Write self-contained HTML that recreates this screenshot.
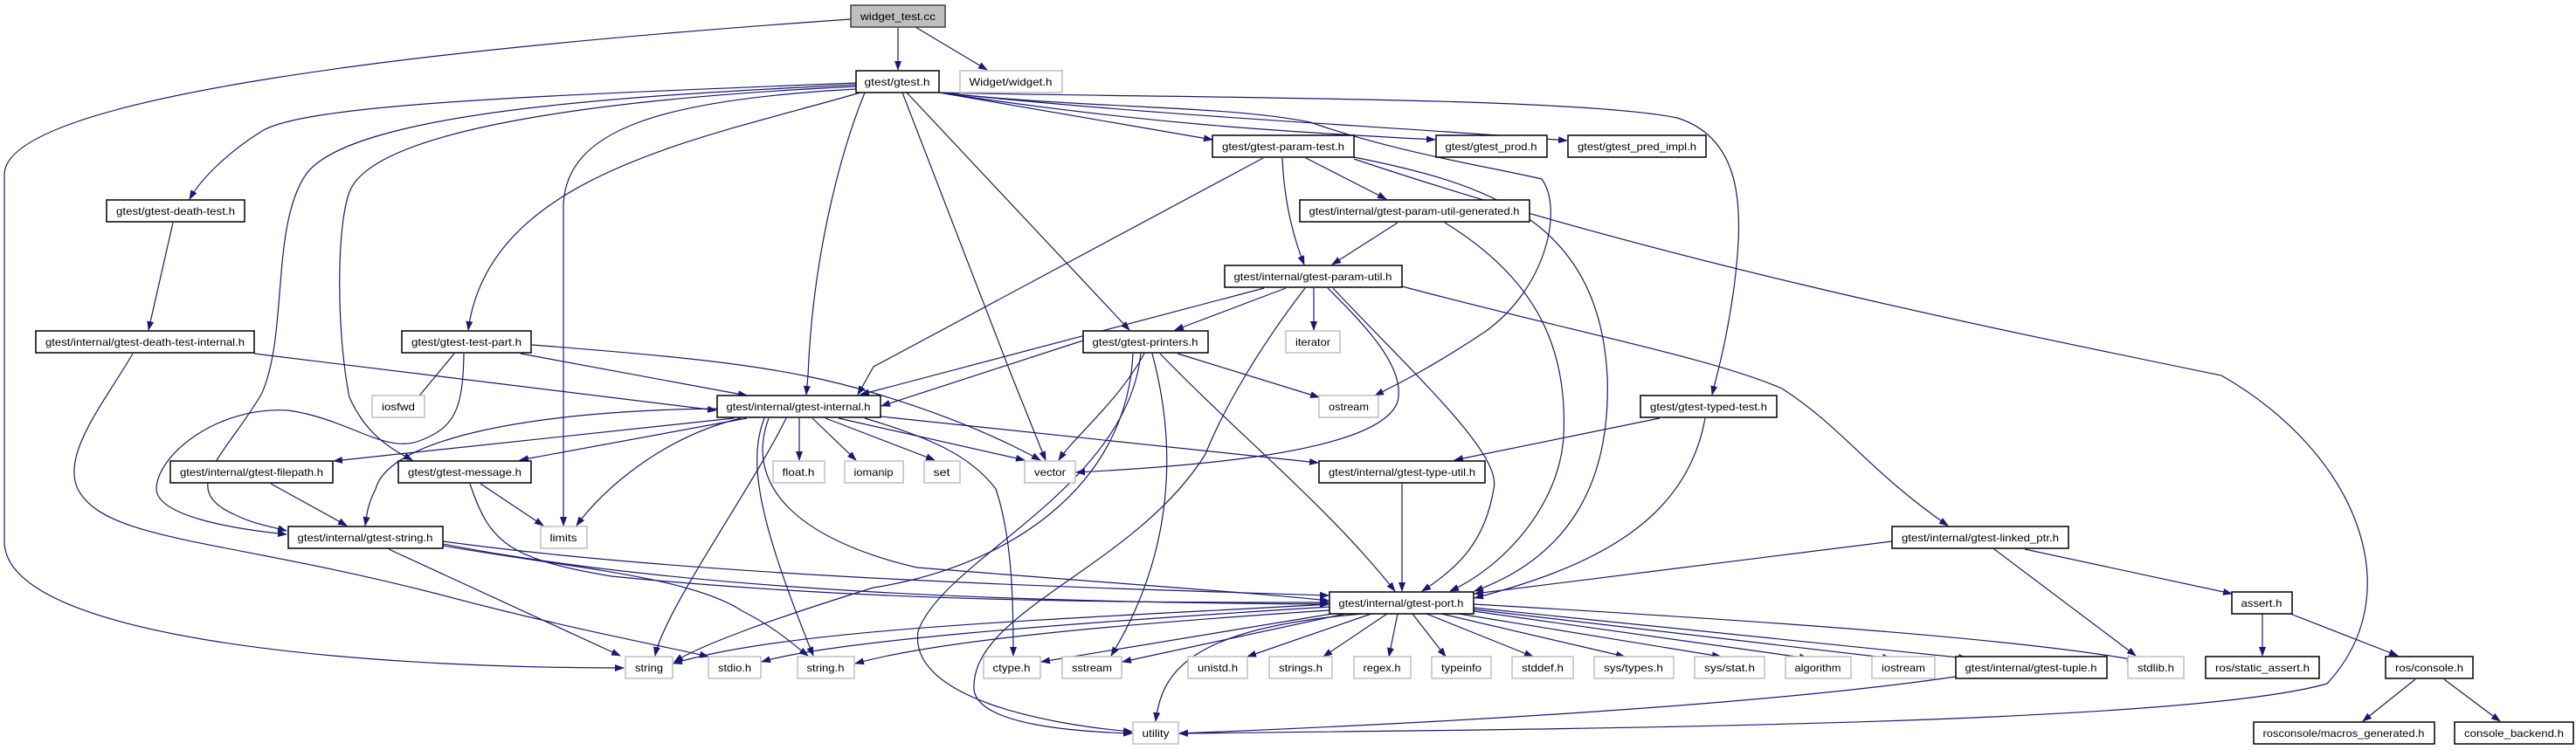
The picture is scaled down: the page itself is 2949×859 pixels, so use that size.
<!DOCTYPE html>
<html><head><meta charset="utf-8"><style>
html,body{margin:0;padding:0;background:#fff;}
svg{display:block;}
text{font-family:"Liberation Sans",sans-serif;font-size:12px;fill:#000;}
</style></head><body>
<svg width="2949" height="859" viewBox="0 0 2949 859" xmlns="http://www.w3.org/2000/svg">
<defs>
<marker id="a" markerUnits="userSpaceOnUse" markerWidth="11" markerHeight="8" refX="10" refY="4" orient="auto">
<path d="M0,0 L11,4 L0,8 z" fill="#191970"/>
</marker>
</defs>
<g fill="none" stroke="#191970" stroke-width="1.2" marker-end="url(#a)">
<!-- widget_test.cc -->
<path d="M974,22 C500,55 5,110 5,200 L5,620 C5,730 400,765 714,765"/>
<path d="M1028,31 L1028,80"/>
<path d="M1048,31 L1130,80"/>
<!-- gtest.h -->
<path d="M980,95 C600,110 350,120 300,150 C260,175 230,205 217,228"/>
<path d="M980,97 C700,110 400,130 350,200 C310,260 330,380 300,450 C260,520 200,560 270,590 C290,600 310,603 328,608"/>
<path d="M980,99 C750,110 430,140 400,220 C385,260 385,380 400,455 C420,500 450,515 472,527"/>
<path d="M980,102 C750,115 650,150 645,233 L645,602"/>
<path d="M990,106 C960,180 930,300 925,430 L923,452"/>
<path d="M985,106 C800,160 560,200 536,378"/>
<path d="M1038,106 L1293,378"/>
<path d="M1033,106 L1158,430 L1197,527"/>
<path d="M1075,106 L1388,160"/>
<path d="M1075,106 C1300,140 1450,150 1643,160"/>
<path d="M1075,106 C1350,135 1600,145 1794,161"/>
<path d="M1075,106 C1250,125 1400,120 1500,140 C1600,175 1700,190 1765,205 C1790,240 1770,330 1700,380 C1640,420 1600,440 1574,453"/>
<path d="M1075,106 C1300,112 1800,110 1920,135 C2000,160 1995,250 1985,330 C1975,400 1965,430 1960,452"/>
<!-- param-test -->
<path d="M1495,181 L1587,228"/>
<path d="M1468,181 C1470,230 1480,270 1493,303"/>
<path d="M1446,181 L1000,420 L982,452"/>
<path d="M1550,180 C1700,210 1830,250 1840,430 C1845,560 1790,640 1688,677"/>
<path d="M1550,182 C1900,300 2300,380 2543,430 C2700,520 2760,680 2664,783 C2500,830 1800,835 1350,840"/>
<!-- param-util-generated -->
<path d="M1600,255 L1525,303"/>
<path d="M1654,255 C1760,320 1795,400 1790,500 C1785,580 1720,650 1660,677"/>
<!-- param-util -->
<path d="M1472,330 L1345,378"/>
<path d="M1447,330 L985,452"/>
<path d="M1504,330 L1504,378"/>
<path d="M1494,330 C1440,400 1400,470 1380,520 C1300,650 1110,700 1115,790 C1120,830 1230,838 1296,840"/>
<path d="M1520,330 C1560,370 1610,420 1600,460 C1580,520 1350,535 1232,541"/>
<path d="M1526,330 C1620,430 1720,520 1710,560 C1700,620 1670,650 1628,677"/>
<path d="M1605,328 C1800,380 1960,410 2040,445 C2110,490 2140,540 2230,602"/>
<!-- printers -->
<path d="M1240,390 L1009,465"/>
<path d="M1348,405 L1510,455"/>
<path d="M1310,405 C1280,460 1230,500 1212,527"/>
<path d="M1297,405 C1290,560 1150,650 1000,673 C880,710 800,740 772,758"/>
<path d="M1319,405 C1350,520 1340,640 1272,751"/>
<path d="M1306,405 C1290,560 1080,640 1051,723 C1040,800 1200,830 1296,838"/>
<path d="M1328,405 C1420,500 1520,580 1597,677"/>
<!-- gtest-internal -->
<path d="M840,479 L382,528"/>
<path d="M821,468 C620,470 446,500 430,560 C420,580 420,590 418,602"/>
<path d="M855,479 L595,527"/>
<path d="M848,479 C760,500 690,560 660,602"/>
<path d="M900,479 C860,560 760,700 750,751"/>
<path d="M875,479 C855,530 870,600 931,751"/>
<path d="M915,479 L915,527"/>
<path d="M930,479 L980,527"/>
<path d="M945,479 L1070,527"/>
<path d="M960,479 L1173,527"/>
<path d="M1008,477 L1509,530"/>
<path d="M990,479 C1060,500 1110,520 1140,560 C1160,620 1160,700 1160,751"/>
<path d="M880,479 C850,560 920,620 1050,650 C1300,670 1450,680 1521,688"/>
<!-- typed-test -->
<path d="M1900,479 L1665,527"/>
<path d="M1952,479 C1930,600 1820,650 1688,685"/>
<!-- type-util -->
<path d="M1605,554 L1605,677"/>
<!-- gtest-string -->
<path d="M445,629 L710,751"/>
<path d="M507,625 C650,650 790,660 850,700 C890,720 910,740 925,751"/>
<path d="M507,620 C800,660 1200,672 1521,682"/>
<path d="M507,623 C800,680 1200,690 1521,692"/>
<!-- message -->
<path d="M550,554 L622,602"/>
<path d="M538,554 C560,620 580,640 700,660 C1000,690 1300,690 1521,690"/>
<!-- filepath -->
<path d="M310,554 L397,602"/>
<!-- death-test -->
<path d="M198,255 L170,378"/>
<!-- death-test-internal -->
<path d="M291,405 L820,470"/>
<path d="M152,405 C120,460 70,520 89,560 C120,620 255,617 500,680 C650,720 760,740 811,752"/>
<!-- test-part -->
<path d="M520,405 L472,463"/>
<path d="M531,405 C530,470 520,490 480,505 C440,520 400,480 330,470 C250,465 180,520 179,560 C180,590 260,605 328,612"/>
<path d="M596,405 L855,453"/>
<path d="M609,395 C800,410 900,420 1000,450 C1100,480 1160,510 1191,527"/>
<!-- gtest-port outgoing -->
<path d="M1522,692 C1200,710 900,720 771,760"/>
<path d="M1522,695 C1200,715 950,735 872,758"/>
<path d="M1522,699 C1200,720 1050,740 979,760"/>
<path d="M1525,703 L1192,758"/>
<path d="M1540,703 L1285,758"/>
<path d="M1570,703 L1428,752"/>
<path d="M1588,703 L1515,752"/>
<path d="M1600,703 L1590,752"/>
<path d="M1617,703 L1655,752"/>
<path d="M1633,703 L1755,752"/>
<path d="M1650,703 L1860,752"/>
<path d="M1670,703 L1970,752"/>
<path d="M1687,700 L2070,754"/>
<path d="M1687,698 L2165,754"/>
<path d="M1687,696 L2252,754"/>
<path d="M1687,692 C2000,710 2300,730 2445,756"/>
<path d="M1560,703 C1360,720 1330,770 1323,826"/>
<!-- linked_ptr -->
<path d="M2166,620 L1688,680"/>
<path d="M2283,629 L2445,751"/>
<path d="M2318,629 L2555,680"/>
<!-- tuple -->
<path d="M2239,775 C2000,810 1600,830 1350,840"/>
<!-- assert, console -->
<path d="M2590,703 L2590,751"/>
<path d="M2622,703 L2745,751"/>
<path d="M2765,778 L2705,826"/>
<path d="M2798,778 L2862,826"/>
</g>
<g stroke-width="1.5">
<rect x="974" y="6" width="108" height="25" fill="#bfbfbf" stroke="#404040"/>
<g fill="#fff" stroke="#000">
<rect x="980" y="81" width="95" height="25"/>
<rect x="1388" y="155" width="162" height="25"/>
<rect x="1644" y="155" width="127" height="25"/>
<rect x="1795" y="155" width="158" height="25"/>
<rect x="122" y="229" width="158" height="25"/>
<rect x="1488" y="229" width="263" height="25"/>
<rect x="1402" y="304" width="203" height="25"/>
<rect x="41" y="379" width="250" height="25"/>
<rect x="460" y="379" width="148" height="25"/>
<rect x="1240" y="379" width="143" height="25"/>
<rect x="821" y="453" width="187" height="25"/>
<rect x="1878" y="453" width="156" height="25"/>
<rect x="195" y="528" width="186" height="25"/>
<rect x="456" y="528" width="152" height="25"/>
<rect x="1510" y="528" width="190" height="25"/>
<rect x="330" y="603" width="177" height="25"/>
<rect x="2166" y="603" width="202" height="25"/>
<rect x="1522" y="678" width="165" height="25"/>
<rect x="2555" y="678" width="69" height="25"/>
<rect x="2239" y="752" width="173" height="25"/>
<rect x="2525" y="752" width="130" height="25"/>
<rect x="2731" y="752" width="100" height="25"/>
<rect x="2580" y="827" width="207" height="25"/>
<rect x="2810" y="827" width="136" height="25"/>
</g>
<g fill="#fff" stroke="#bfbfbf">
<rect x="1099" y="81" width="117" height="25"/>
<rect x="1472" y="379" width="62" height="25"/>
<rect x="426" y="453" width="60" height="25"/>
<rect x="1510" y="453" width="68" height="25"/>
<rect x="885" y="528" width="59" height="25"/>
<rect x="967" y="528" width="67" height="25"/>
<rect x="1058" y="528" width="41" height="25"/>
<rect x="1173" y="528" width="58" height="25"/>
<rect x="619" y="603" width="53" height="25"/>
<rect x="716" y="752" width="54" height="25"/>
<rect x="811" y="752" width="60" height="25"/>
<rect x="913" y="752" width="65" height="25"/>
<rect x="1126" y="752" width="65" height="25"/>
<rect x="1216" y="752" width="68" height="25"/>
<rect x="1360" y="752" width="68" height="25"/>
<rect x="1453" y="752" width="72" height="25"/>
<rect x="1550" y="752" width="65" height="25"/>
<rect x="1639" y="752" width="68" height="25"/>
<rect x="1731" y="752" width="70" height="25"/>
<rect x="1825" y="752" width="91" height="25"/>
<rect x="1940" y="752" width="80" height="25"/>
<rect x="2044" y="752" width="75" height="25"/>
<rect x="2143" y="752" width="72" height="25"/>
<rect x="2436" y="752" width="64" height="25"/>
<rect x="1297" y="827" width="52" height="25"/>
</g>
</g>
<g text-anchor="middle" lengthAdjust="spacingAndGlyphs">
<text x="1028" y="23" textLength="86" lengthAdjust="spacingAndGlyphs">widget_test.cc</text>
<text x="1027" y="98" textLength="75" lengthAdjust="spacingAndGlyphs">gtest/gtest.h</text>
<text x="1157" y="98" textLength="95" lengthAdjust="spacingAndGlyphs">Widget/widget.h</text>
<text x="1469" y="172" textLength="140" lengthAdjust="spacingAndGlyphs">gtest/gtest-param-test.h</text>
<text x="1707" y="172" textLength="105" lengthAdjust="spacingAndGlyphs">gtest/gtest_prod.h</text>
<text x="1874" y="172" textLength="136" lengthAdjust="spacingAndGlyphs">gtest/gtest_pred_impl.h</text>
<text x="201" y="246" textLength="136" lengthAdjust="spacingAndGlyphs">gtest/gtest-death-test.h</text>
<text x="1619" y="246" textLength="241" lengthAdjust="spacingAndGlyphs">gtest/internal/gtest-param-util-generated.h</text>
<text x="1503" y="321" textLength="181" lengthAdjust="spacingAndGlyphs">gtest/internal/gtest-param-util.h</text>
<text x="166" y="396" textLength="228" lengthAdjust="spacingAndGlyphs">gtest/internal/gtest-death-test-internal.h</text>
<text x="534" y="396" textLength="126" lengthAdjust="spacingAndGlyphs">gtest/gtest-test-part.h</text>
<text x="1311" y="396" textLength="121" lengthAdjust="spacingAndGlyphs">gtest/gtest-printers.h</text>
<text x="1503" y="396" textLength="40" lengthAdjust="spacingAndGlyphs">iterator</text>
<text x="456" y="470" textLength="38" lengthAdjust="spacingAndGlyphs">iosfwd</text>
<text x="914" y="470" textLength="165" lengthAdjust="spacingAndGlyphs">gtest/internal/gtest-internal.h</text>
<text x="1544" y="470" textLength="46" lengthAdjust="spacingAndGlyphs">ostream</text>
<text x="1956" y="470" textLength="134" lengthAdjust="spacingAndGlyphs">gtest/gtest-typed-test.h</text>
<text x="288" y="545" textLength="164" lengthAdjust="spacingAndGlyphs">gtest/internal/gtest-filepath.h</text>
<text x="532" y="545" textLength="130" lengthAdjust="spacingAndGlyphs">gtest/gtest-message.h</text>
<text x="914" y="545" textLength="37" lengthAdjust="spacingAndGlyphs">float.h</text>
<text x="1000" y="545" textLength="45" lengthAdjust="spacingAndGlyphs">iomanip</text>
<text x="1078" y="545" textLength="19" lengthAdjust="spacingAndGlyphs">set</text>
<text x="1202" y="545" textLength="36" lengthAdjust="spacingAndGlyphs">vector</text>
<text x="1605" y="545" textLength="168" lengthAdjust="spacingAndGlyphs">gtest/internal/gtest-type-util.h</text>
<text x="418" y="620" textLength="155" lengthAdjust="spacingAndGlyphs">gtest/internal/gtest-string.h</text>
<text x="645" y="620" textLength="31" lengthAdjust="spacingAndGlyphs">limits</text>
<text x="2267" y="620" textLength="180" lengthAdjust="spacingAndGlyphs">gtest/internal/gtest-linked_ptr.h</text>
<text x="1604" y="695" textLength="143" lengthAdjust="spacingAndGlyphs">gtest/internal/gtest-port.h</text>
<text x="2589" y="695" textLength="47" lengthAdjust="spacingAndGlyphs">assert.h</text>
<text x="743" y="769" textLength="32" lengthAdjust="spacingAndGlyphs">string</text>
<text x="841" y="769" textLength="38" lengthAdjust="spacingAndGlyphs">stdio.h</text>
<text x="945" y="769" textLength="43" lengthAdjust="spacingAndGlyphs">string.h</text>
<text x="1158" y="769" textLength="43" lengthAdjust="spacingAndGlyphs">ctype.h</text>
<text x="1250" y="769" textLength="46" lengthAdjust="spacingAndGlyphs">sstream</text>
<text x="1394" y="769" textLength="46" lengthAdjust="spacingAndGlyphs">unistd.h</text>
<text x="1489" y="769" textLength="50" lengthAdjust="spacingAndGlyphs">strings.h</text>
<text x="1582" y="769" textLength="43" lengthAdjust="spacingAndGlyphs">regex.h</text>
<text x="1673" y="769" textLength="46" lengthAdjust="spacingAndGlyphs">typeinfo</text>
<text x="1766" y="769" textLength="48" lengthAdjust="spacingAndGlyphs">stddef.h</text>
<text x="1870" y="769" textLength="68" lengthAdjust="spacingAndGlyphs">sys/types.h</text>
<text x="1980" y="769" textLength="58" lengthAdjust="spacingAndGlyphs">sys/stat.h</text>
<text x="2081" y="769" textLength="53" lengthAdjust="spacingAndGlyphs">algorithm</text>
<text x="2179" y="769" textLength="50" lengthAdjust="spacingAndGlyphs">iostream</text>
<text x="2325" y="769" textLength="151" lengthAdjust="spacingAndGlyphs">gtest/internal/gtest-tuple.h</text>
<text x="2468" y="769" textLength="42" lengthAdjust="spacingAndGlyphs">stdlib.h</text>
<text x="2590" y="769" textLength="108" lengthAdjust="spacingAndGlyphs">ros/static_assert.h</text>
<text x="2781" y="769" textLength="78" lengthAdjust="spacingAndGlyphs">ros/console.h</text>
<text x="1323" y="844" textLength="31" lengthAdjust="spacingAndGlyphs">utility</text>
<text x="2683" y="844" textLength="185" lengthAdjust="spacingAndGlyphs">rosconsole/macros_generated.h</text>
<text x="2878" y="844" textLength="114" lengthAdjust="spacingAndGlyphs">console_backend.h</text>
</g>
</svg>
</body></html>
